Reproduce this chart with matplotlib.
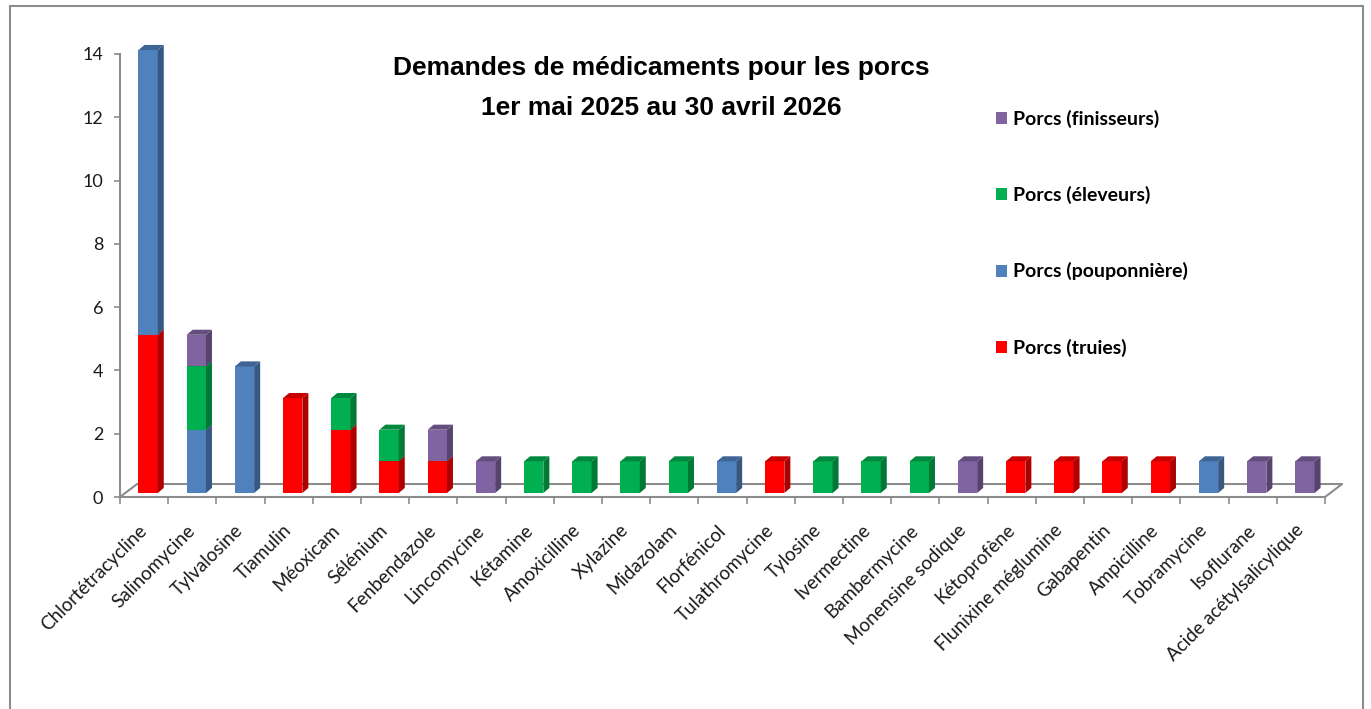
import numpy as np
import matplotlib
matplotlib.use("Agg")
import matplotlib.pyplot as plt
import matplotlib.colors as mcolors
import matplotlib.transforms as mtransforms
from matplotlib.patches import Polygon, Rectangle
from matplotlib.ticker import FixedLocator

# ---- data ----
drugs = ["Chlortétracycline", "Salinomycine", "Tylvalosine", "Tiamulin", "Méoxicam",
         "Sélénium", "Fenbendazole", "Lincomycine", "Kétamine", "Amoxicilline",
         "Xylazine", "Midazolam", "Florfénicol", "Tulathromycine", "Tylosine",
         "Ivermectine", "Bambermycine", "Monensine sodique", "Kétoprofène",
         "Flunixine méglumine", "Gabapentin", "Ampicilline", "Tobramycine",
         "Isoflurane", "Acide acétylsalicylique"]
truies      = [5, 0, 0, 3, 2, 1, 1, 0, 0, 0, 0, 0, 0, 1, 0, 0, 0, 0, 1, 1, 1, 1, 0, 0, 0]
pouponniere = [9, 2, 4, 0, 0, 0, 0, 0, 0, 0, 0, 0, 1, 0, 0, 0, 0, 0, 0, 0, 0, 0, 1, 0, 0]
eleveurs    = [0, 2, 0, 0, 1, 1, 0, 0, 1, 1, 1, 1, 0, 0, 1, 1, 1, 0, 0, 0, 0, 0, 0, 0, 0]
finisseurs  = [0, 1, 0, 0, 0, 0, 1, 1, 0, 0, 0, 0, 0, 0, 0, 0, 0, 1, 0, 0, 0, 0, 0, 1, 1]
series_names = ["Porcs (truies)", "Porcs (pouponnière)", "Porcs (éleveurs)", "Porcs (finisseurs)"]

# ---- style ----
COLORS = ["#ff0000", "#4f81bd", "#00b050", "#8064a2"]
C_AX = "#8c8c8c"
W, H = 1371, 709
BAR_W = 0.40
DEPTH_X, DEPTH_Y = 0.125, 0.16      # bar side/top depth (data units)
FLOOR_X, FLOOR_Y = 0.355, 0.41      # floor depth (data units)

plt.rcParams["font.family"] = ["Lato", "DejaVu Sans"]


def shade(c, f):
    r, g, b = mcolors.to_rgb(c)
    return (r * f, g * f, b * f)


fig = plt.figure(figsize=(W / 100, H / 100), dpi=100)
ax = fig.add_axes([120 / W, (H - 497) / H, 1205 / W, 443 / H])
ax.set_xlim(-0.5, len(drugs) - 0.5)
ax.set_ylim(0, 14)

# bars sit a few pixels behind the front plane
off = mtransforms.offset_copy(ax.transData, fig=fig, x=4, y=4, units="dots")

x = np.arange(len(drugs))
bottom = np.zeros(len(drugs))
for k, (vals, name, col) in enumerate(zip([truies, pouponniere, eleveurs, finisseurs],
                                          series_names, COLORS)):
    vals = np.array(vals, dtype=float)
    bars = ax.bar(x, vals, width=BAR_W, bottom=bottom, color=col, label=name,
                  transform=off, zorder=3 + k, clip_on=False, linewidth=0)
    for b in bars:
        if b.get_height() <= 0:
            continue
        x0, y0 = b.get_x(), b.get_y()
        x1, y1 = x0 + b.get_width(), y0 + b.get_height()
        side = Polygon([(x1, y0), (x1 + DEPTH_X, y0 + DEPTH_Y), (x1 + DEPTH_X, y1 + DEPTH_Y), (x1, y1)],
                       closed=True, fc=shade(col, 0.68), ec="none", transform=off,
                       zorder=3 + k, clip_on=False)
        top = Polygon([(x0, y1), (x1, y1), (x1 + DEPTH_X, y1 + DEPTH_Y), (x0 + DEPTH_X, y1 + DEPTH_Y)],
                      closed=True, fc=shade(col, 0.78), ec="none", transform=off,
                      zorder=3 + k, clip_on=False)
        ax.add_patch(side)
        ax.add_patch(top)
    bottom += vals

# ---- floor ----
xl, xr = ax.get_xlim()
ax.plot([xl, xl + FLOOR_X, xr + FLOOR_X, xr], [0, FLOOR_Y, FLOOR_Y, 0],
        color=C_AX, lw=1.5, zorder=1, clip_on=False)

# ---- axes ----
for s in ("top", "right"):
    ax.spines[s].set_visible(False)
for s in ("left", "bottom"):
    ax.spines[s].set_color(C_AX)
    ax.spines[s].set_linewidth(1.5)
ax.set_yticks(np.arange(0, 15, 2))
ax.tick_params(axis="y", direction="out", length=4, width=1.2, color=C_AX,
               labelsize=13, pad=8, labelcolor="#1a1a1a")
ax.set_xticks(x)
ax.set_xticklabels(drugs, rotation=45, ha="right", va="center", rotation_mode="anchor")
ax.xaxis.set_minor_locator(FixedLocator(np.arange(-0.5, len(drugs), 1.0)))
ax.tick_params(axis="x", which="major", length=0, labelsize=13.5, pad=22, labelcolor="#1a1a1a")
ax.tick_params(axis="x", which="minor", direction="out", length=5, width=1.2, color=C_AX)

# ---- title ----
fig.text(661 / W, 1 - 68 / H, "Demandes de médicaments pour les porcs", ha="center", va="center",
         fontsize=19, fontweight="bold", family="Liberation Sans")
fig.text(661 / W, 1 - 108 / H, "1er mai 2025 au 30 avril 2026", ha="center", va="center",
         fontsize=19, fontweight="bold", family="Liberation Sans")

# ---- legend ----
handles, labels = ax.get_legend_handles_labels()
ax.legend(handles[::-1], labels[::-1], loc="upper left", bbox_to_anchor=(978 / W, 1 - 92 / H),
          bbox_transform=fig.transFigure, frameon=False, handlelength=0.58, handleheight=0.58,
          handletextpad=0.3, labelspacing=3.0, prop={"weight": "bold", "size": 14})

# ---- chart frame ----
fig.add_artist(Rectangle((10 / W, -0.1), (1363 - 10) / W, 1.1 - 6 / H, transform=fig.transFigure,
                         fill=False, ec="#8c8c8c", lw=1.5))

fig.savefig("out.png", dpi=100)
